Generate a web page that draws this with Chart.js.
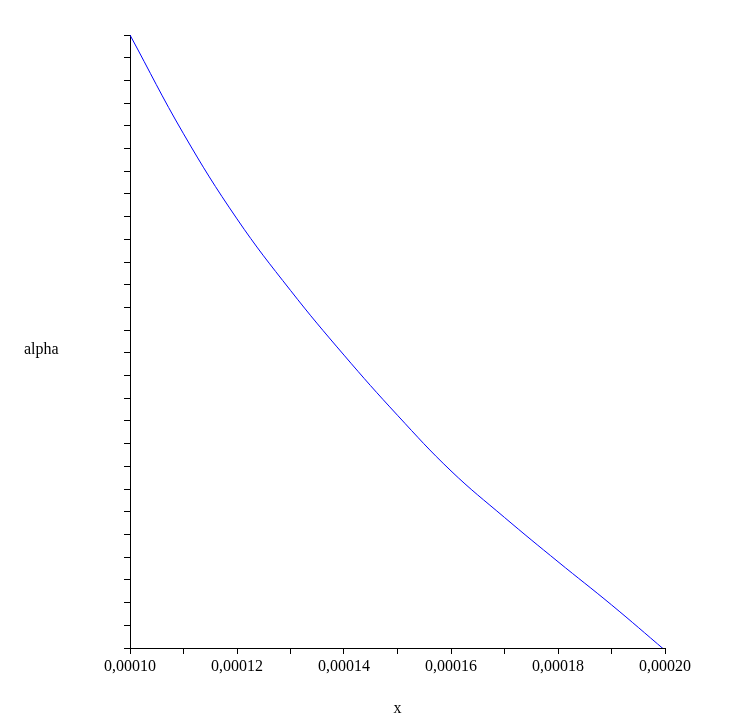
<!DOCTYPE html>
<html>
<head>
<meta charset="utf-8">
<script src="https://cdn.jsdelivr.net/npm/chart.js@4"></script>
<style>
  html, body { margin: 0; padding: 0; background: #fff; }
  #wrap { width: 740px; height: 722px; }
</style>
</head>
<body>
<div id="wrap"><canvas id="c" width="740" height="722"></canvas></div>
<script>
// values
const xValues = [0.00010, 0.00011, 0.00012, 0.00013, 0.00014, 0.00015, 0.00016, 0.00017, 0.00018, 0.00019, 0.00020];
const alphaValues = [1.362, 1.275, 1.200, 1.137, 1.080, 1.027, 0.978, 0.937, 0.898, 0.860, 0.820];

const points = xValues.map((x, i) => ({ x: x, y: alphaValues[i] }));

// horizontal "alpha" label on the left
const yTitle = {
  id: "yTitle",
  afterDraw(chart) {
    const ctx = chart.ctx;
    ctx.save();
    ctx.font = "16px 'Liberation Serif'";
    ctx.fillStyle = "#000";
    ctx.textBaseline = "middle";
    ctx.fillText("alpha", 24, 350);
    ctx.restore();
  }
};

new Chart(document.getElementById("c"), {
  type: "line",
  data: {
    datasets: [{
      data: points,
      borderColor: "#0000ff",
      borderWidth: 1,
      pointRadius: 0,
      tension: 0.4,
      fill: false
    }]
  },
  options: {
    responsive: false,
    animation: false,
    layout: { padding: { left: 0, top: 35, right: 75, bottom: 0 } },
    plugins: { legend: { display: false }, tooltip: { enabled: false } },
    scales: {
      x: {
        type: "linear",
        min: 0.0001,
        max: 0.0002,
        border: { color: "#000", width: 1 },
        grid: { drawOnChartArea: false, drawTicks: true, tickLength: 6, color: "#000" },
        ticks: {
          stepSize: 0.00001,
          autoSkip: false,
          maxRotation: 0,
          color: "#000",
          font: { family: "Liberation Serif", size: 16 },
          callback: v => {
            const n = Math.round(v * 1e5);
            return n % 2 === 0 ? v.toFixed(5).replace(".", ",") : "";
          }
        },
        title: { display: true, text: "x", color: "#000", font: { family: "Liberation Serif", size: 16 }, padding: { top: 6 } },
        afterFit: s => { s.height = 74; }
      },
      y: {
        type: "linear",
        min: 0.822,
        max: 1.362,
        border: { color: "#000", width: 1 },
        grid: { drawOnChartArea: false, drawTicks: true, tickLength: 6, color: "#000" },
        ticks: {
          stepSize: 0.02,
          autoSkip: false,
          color: "#000",
          font: { family: "Liberation Serif", size: 16 },
          callback: v => {
            const n = Math.round(v * 100);
            return (n % 10 === 0 && Math.abs(v * 100 - n) < 1e-6) ? v.toFixed(1).replace(".", ",") : "";
          }
        },
        afterFit: s => { s.width = 130; }
      }
    }
  },
  plugins: [yTitle]
});
</script>
</body>
</html>
